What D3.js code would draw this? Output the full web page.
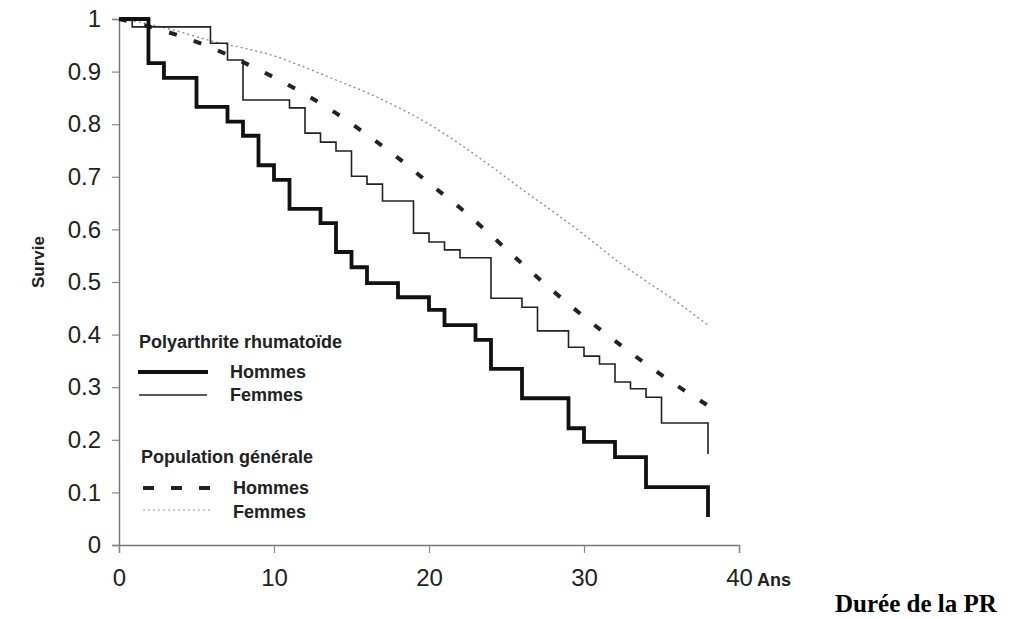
<!DOCTYPE html>
<html>
<head>
<meta charset="utf-8">
<script src="https://cdn.jsdelivr.net/npm/d3@7"></script>
<style>
  html, body { margin: 0; padding: 0; background: #fff; }
  svg { display: block; }
  text { font-family: "Liberation Sans", Arial, sans-serif; fill: #222; }
</style>
</head>
<body>
<svg id="chart" width="1014" height="619"></svg>
<script>
// ---- data ----
const xTicks = [0, 10, 20, 30, 40];
const yTicks = [0, 0.1, 0.2, 0.3, 0.4, 0.5, 0.6, 0.7, 0.8, 0.9, 1];
const yTickLabels = ["0", "0.1", "0.2", "0.3", "0.4", "0.5", "0.6", "0.7", "0.8", "0.9", "1"];

// Polyarthrite rhumatoïde – Hommes (Kaplan-Meier steps)
const prHommesT = [0, 1.9, 2.9, 5.0, 7.0, 8.0, 9.0, 10.0, 11.0, 13.0, 14.0, 15.0, 16.0, 18.0, 20.0, 21.0, 23.0, 24.0, 26.0, 29.0, 30.0, 32.0, 34.0, 38.0];
const prHommesS = [1, 0.916, 0.888, 0.833, 0.805, 0.778, 0.722, 0.694, 0.639, 0.612, 0.557, 0.528, 0.498, 0.471, 0.447, 0.418, 0.39, 0.335, 0.279, 0.222, 0.196, 0.167, 0.110, 0.053];

// Polyarthrite rhumatoïde – Femmes
const prFemmesT = [0, 0.85, 5.9, 7, 8, 11, 12, 13, 14, 15, 16, 17, 19, 20, 21, 22, 24, 26, 27, 29, 30, 31, 32, 33, 34, 35, 38];
const prFemmesS = [1, 0.985, 0.954, 0.922, 0.846, 0.831, 0.783, 0.766, 0.749, 0.701, 0.686, 0.654, 0.593, 0.576, 0.561, 0.546, 0.469, 0.452, 0.407, 0.376, 0.359, 0.344, 0.31, 0.297, 0.281, 0.232, 0.173];

// Population générale (expected survival)
const genT = [0, 2, 4, 6, 8, 10, 12, 14, 16, 18, 20, 22, 24, 26, 28, 30, 32, 34, 36, 38];
const genHommesS = [1, 0.985, 0.967, 0.945, 0.918, 0.889, 0.857, 0.821, 0.780, 0.736, 0.688, 0.641, 0.589, 0.535, 0.483, 0.434, 0.388, 0.344, 0.303, 0.265];
const genFemmesS = [1, 0.99, 0.975, 0.958, 0.945, 0.93, 0.908, 0.884, 0.86, 0.832, 0.80, 0.762, 0.72, 0.676, 0.634, 0.59, 0.543, 0.502, 0.462, 0.418];

const yTitle = "Survie";
const xUnit = "Ans";
const xTitle = "Durée de la PR";
const legendGroups = ["Polyarthrite rhumatoïde", "Population générale"];
const legendItems = ["Hommes", "Femmes"];

// ---- drawing ----
const svg = d3.select("#chart");
const x = d3.scaleLinear().domain([0, 40]).range([119, 739]);
const y = d3.scaleLinear().domain([0, 1]).range([545, 19]);

const zip = (t, s) => t.map((v, i) => [v, s[i]]);
const stepLine = d3.line().x(d => x(d[0])).y(d => y(d[1])).curve(d3.curveStepAfter);
const smoothLine = d3.line().x(d => x(d[0])).y(d => y(d[1])).curve(d3.curveMonotoneX);

// y axis
const yAxis = d3.axisLeft(y).tickValues(yTicks).tickFormat((d, i) => yTickLabels[i]).tickSize(7).tickPadding(11);
const gy = svg.append("g").attr("transform", "translate(119,0)").call(yAxis);
gy.select(".domain").attr("stroke", "#777").attr("stroke-width", 1.4);
gy.selectAll(".tick line").attr("stroke", "#888").attr("stroke-width", 1.2);
gy.selectAll(".tick text").attr("font-size", 24).attr("fill", "#333").attr("font-family", "Liberation Sans, Arial, sans-serif");

// x axis
const xAxis = d3.axisBottom(x).tickValues(xTicks).tickFormat(d3.format("d")).tickSize(8).tickPadding(16);
const gx = svg.append("g").attr("transform", "translate(0,545)").call(xAxis);
gx.select(".domain").attr("stroke", "#777").attr("stroke-width", 1.4);
gx.selectAll(".tick line").attr("stroke", "#888").attr("stroke-width", 1.2);
gx.selectAll(".tick text").attr("font-size", 24).attr("fill", "#333").attr("font-family", "Liberation Sans, Arial, sans-serif");

// curves
svg.append("path").datum(zip(genT, genFemmesS)).attr("d", smoothLine)
  .attr("fill", "none").attr("stroke", "#888").attr("stroke-width", 1.3).attr("stroke-dasharray", "2,3");
svg.append("path").datum(zip(genT, genHommesS)).attr("d", smoothLine)
  .attr("fill", "none").attr("stroke", "#222").attr("stroke-width", 4).attr("stroke-dasharray", "8,18");
svg.append("path").datum(zip(prFemmesT, prFemmesS)).attr("d", stepLine)
  .attr("fill", "none").attr("stroke", "#222").attr("stroke-width", 1.6);
svg.append("path").datum(zip(prHommesT, prHommesS)).attr("d", stepLine)
  .attr("fill", "none").attr("stroke", "#111").attr("stroke-width", 3.8);

// axis titles
svg.append("text").attr("transform", "translate(38,262) rotate(-90)")
  .attr("text-anchor", "middle").attr("dominant-baseline", "central")
  .attr("font-size", 17).attr("font-weight", "bold").text(yTitle);
svg.append("text").attr("x", 757).attr("y", 586)
  .attr("font-size", 18).attr("font-weight", "bold").text(xUnit);
svg.append("text").attr("x", 835).attr("y", 612)
  .attr("font-size", 25).attr("font-weight", "bold")
  .style("font-family", "'Liberation Serif', 'Times New Roman', serif").style("fill", "#000").text(xTitle);

// legend
const lg = svg.append("g");
const legFont = 18;
lg.append("text").attr("x", 139).attr("y", 342).attr("dominant-baseline", "central")
  .attr("font-size", legFont).attr("font-weight", "bold").text(legendGroups[0]);
lg.append("line").attr("x1", 138).attr("x2", 208).attr("y1", 372).attr("y2", 372)
  .attr("stroke", "#111").attr("stroke-width", 3.8);
lg.append("text").attr("x", 230).attr("y", 372).attr("dominant-baseline", "central")
  .attr("font-size", legFont).attr("font-weight", "bold").text(legendItems[0]);
lg.append("line").attr("x1", 139).attr("x2", 207).attr("y1", 395).attr("y2", 395)
  .attr("stroke", "#222").attr("stroke-width", 1.6);
lg.append("text").attr("x", 230).attr("y", 395).attr("dominant-baseline", "central")
  .attr("font-size", legFont).attr("font-weight", "bold").text(legendItems[1]);

lg.append("text").attr("x", 141).attr("y", 457).attr("dominant-baseline", "central")
  .attr("font-size", legFont).attr("font-weight", "bold").text(legendGroups[1]);
lg.append("line").attr("x1", 143).attr("x2", 210).attr("y1", 488).attr("y2", 488)
  .attr("stroke", "#222").attr("stroke-width", 4).attr("stroke-dasharray", "11,17");
lg.append("text").attr("x", 233).attr("y", 488).attr("dominant-baseline", "central")
  .attr("font-size", legFont).attr("font-weight", "bold").text(legendItems[0]);
lg.append("line").attr("x1", 143).attr("x2", 210).attr("y1", 510).attr("y2", 510)
  .attr("stroke", "#999").attr("stroke-width", 1.2).attr("stroke-dasharray", "2,3");
lg.append("text").attr("x", 233).attr("y", 512).attr("dominant-baseline", "central")
  .attr("font-size", legFont).attr("font-weight", "bold").text(legendItems[1]);
</script>
</body>
</html>
